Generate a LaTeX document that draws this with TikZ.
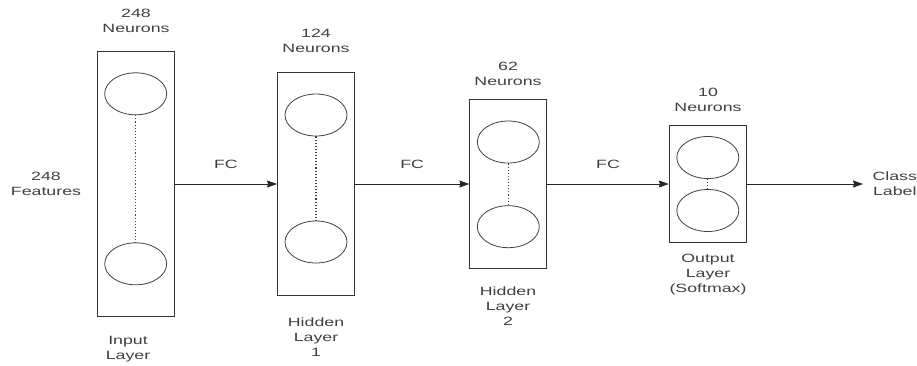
\documentclass[tikz,border=0pt]{standalone}
\usepackage{fontspec}
\setmainfont{Liberation Sans}[FakeStretch=1.48]
\usetikzlibrary{shapes.geometric}
\usetikzlibrary{arrows.meta}

\begin{document}
\begin{tikzpicture}[x=1pt, y=-1pt, font=\fontsize{12}{15}\selectfont,
  layerbox/.style={draw=black!80, line width=0.9pt, minimum width=77pt, inner sep=0pt},
  neuron/.style={draw=black!75, ellipse, line width=0.8pt, minimum width=62pt, minimum height=42pt, inner sep=0pt},
  lbl/.style={align=center, text=black!75},
  fc/.style={draw=black!85, line width=0.8pt, -{Stealth[length=10pt, width=7pt, inset=1pt]}}]
\useasboundingbox (0,0) rectangle (917,365);

% layers: name / x / box height / upper and lower neuron
\foreach \nm/\cx/\h/\ya/\yb in {inp/135.7/265/93.8/263.8, hidA/316/222.3/115/242, hidB/508.3/169/142/226.7, out/707.8/116.6/157.5/210.5} {
  \node[layerbox, minimum height=\h] (\nm) at (\cx,184) {};
  \node[neuron] (\nm-a) at (\cx,\ya) {};
  \node[neuron] (\nm-b) at (\cx,\yb) {};
  \draw[dotted, line width=1.1pt, black!75] (\nm-a) -- (\nm-b);
}

\node[lbl] (inp-top) at (136,20.5) {248\\Neurons};
\node[lbl] (inp-bot) at (128,349) {Input\\Layer};
\node[lbl] (hidA-top) at (316,41) {124\\Neurons};
\node[lbl] (hidA-bot) at (316,337.5) {Hidden\\Layer\\1};
\node[lbl] (hidB-top) at (508,73.5) {62\\Neurons};
\node[lbl] (hidB-bot) at (508,306.5) {Hidden\\Layer\\2};
\node[lbl] (out-top) at (708,99.5) {10\\Neurons};
\node[lbl] (out-bot) at (708,275) {Output\\Layer\\(Softmax)};
\node[lbl] (feat) at (46,184) {248\\Features};
\node[lbl, anchor=west] (cls) at (869,184) {Class\\Label};

% fully connected links
\draw[fc] (inp) -- node[lbl, above=12pt] (fc-a) {FC} (hidA);
\draw[fc] (hidA) -- node[lbl, above=12pt] (fc-b) {FC} (hidB);
\draw[fc] (hidB) -- node[lbl, above=12pt] (fc-c) {FC} (out);
\draw[fc] (out.east) -- ([xshift=-6pt]cls.west);

\end{tikzpicture}
\end{document}
